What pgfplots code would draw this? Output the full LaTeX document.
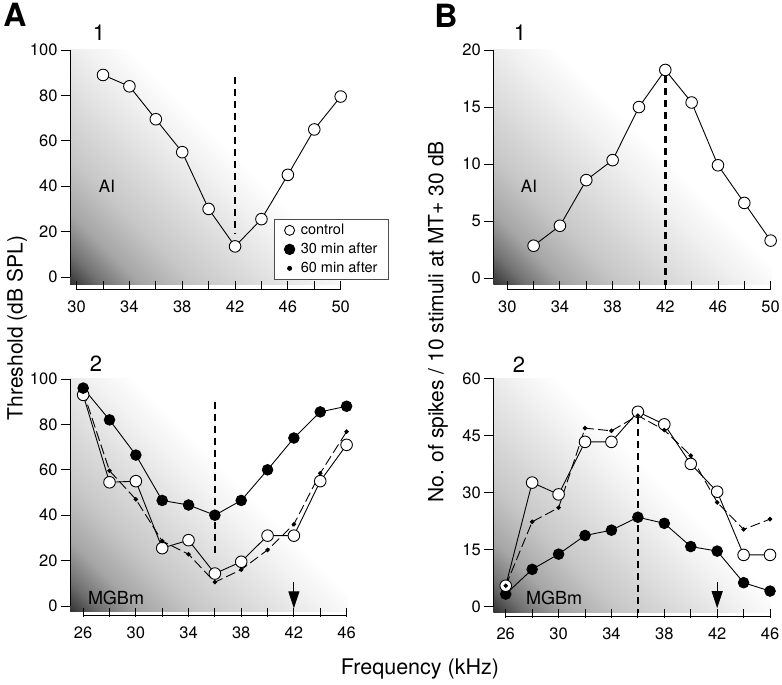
\documentclass[border=0pt]{standalone}
\usepackage{fontspec}
\setmainfont{TeX Gyre Heros}
\usepackage{pgfplots}
\pgfplotsset{compat=1.18}
\usetikzlibrary{arrows.meta}

% dark corner at bottom left, fading to white along the diagonal
% (the box covers roughly 14.6bp..85.4bp of the shading at 45 degrees)
\pgfdeclarehorizontalshading{cornergrad}{100bp}{color(0bp)=(black!80); color(14.6bp)=(black!80); color(18.9bp)=(black!56); color(24.5bp)=(black!35); color(32.3bp)=(black!22); color(41.5bp)=(black!13); color(50bp)=(black!5); color(56bp)=(white); color(100bp)=(white)}

\pgfplotsset{
  panel/.style={
    scale only axis, clip=false,
    axis lines=left,
    axis line style={draw=none,-},
    tick style={black, line width=0.9pt},
    tick align=outside,
    major tick length=9pt,
    axis x line shift=-4pt,
    ticklabel style={font=\fontsize{16.5}{18}\selectfont},
    xticklabel style={yshift=-7pt},
    /pgf/number format/assume math mode=true,
    axis background/.style={shading=cornergrad, shading angle=45},
  },
  ctrl/.style={black, line width=0.9pt, mark=*, mark size=5.8pt, mark options={fill=white, line width=0.9pt}},
  m30/.style={black, line width=0.9pt, mark=*, mark size=5.3pt, mark options={fill=black}},
  m60/.style={black, line width=0.9pt, dash pattern=on 10pt off 4pt, mark=*, mark size=1.8pt, mark options={solid, fill=black}},
  cf/.style={black, line width=2.6pt, dash pattern=on 7pt off 5pt},
}
\newcommand{\lab}[1]{\fontsize{#1}{#1}\selectfont}

\begin{document}
\begin{tikzpicture}
\path[use as bounding box] (0,0) rectangle (782pt,685pt);

% ---------- A1 ----------
\begin{axis}[panel, at={(70pt,400pt)}, anchor=south west,
  width=272pt, height=235pt,
  xmin=29.5, xmax=50.1, ymin=-3.5, ymax=100,
  xtick={30,32,...,50}, xticklabels={30,,34,,38,,42,,46,,50},
  ytick={0,20,...,100},
  legend style={at={(0.75,0.281)}, anchor=north west, draw=black!70, line width=0.8pt,
    fill=white, font=\lab{14.5}, inner xsep=10pt, inner ysep=2pt, row sep=1pt, column sep=5pt,
    nodes={inner sep=1pt, text height=12pt, text depth=4pt}, cells={anchor=west}},
  legend image code/.code={\draw[#1,solid] plot coordinates {(0pt,0pt)};},
]
\draw[line width=0.9pt] ([yshift=-4pt]axis cs:30,-3.5) -- ([yshift=-4pt]axis cs:50,-3.5);
\draw[line width=0.9pt] (axis cs:29.5,0) -- (axis cs:29.5,100);
\addplot[cf, forget plot] coordinates {(42,88.2) (42,19)};
\addplot[ctrl, forget plot] coordinates {
  (32,89) (34,84) (36,69.5) (38,55) (40,30) (42,13.5) (44,25.5) (46,45) (48,65) (50,79.5)};
\addlegendimage{ctrl, mark size=5pt}
\addlegendentry{control}
\addlegendimage{m30, mark size=5.2pt}
\addlegendentry{30 min after}
\addlegendimage{m60, mark size=2pt}
\addlegendentry{60 min after}
\end{axis}

% ---------- A2 ----------
\begin{axis}[panel, at={(70pt,73.3pt)}, anchor=south west,
  width=277.9pt, height=232.7pt,
  xmin=25.0, xmax=46.1, ymin=-2.5, ymax=100,
  xtick={26,28,...,46}, xticklabels={26,,30,,34,,38,,42,,46},
  ytick={0,20,...,100},
]
\draw[line width=0.9pt] ([yshift=-4pt]axis cs:26,-2.5) -- ([yshift=-4pt]axis cs:46,-2.5);
\draw[line width=0.9pt] (axis cs:25.0,0) -- (axis cs:25.0,100);
\addplot[cf] coordinates {(36,90) (36,21.6)};
\draw[line width=1pt, -{Triangle[length=17pt,width=11pt]}] (axis cs:42,10.5) -- (axis cs:42,-1);
\addplot[ctrl] coordinates {
  (26,93) (28,54.5) (30,55) (32,25.5) (34,29) (36,14.3) (38,19.5) (40,31) (42,31) (44,55) (46,71)};
\addplot[m30] coordinates {
  (26,96) (28,82) (30,66.5) (32,46.5) (34,44.5) (36,40) (38,46.5) (40,60) (42,74) (44,85.5) (46,88)};
\addplot[m60] coordinates {
  (26,94.5) (28,59.6) (30,47) (32,28.6) (34,22.8) (36,10.5) (38,16) (40,24.7) (42,36) (44,58.5) (46,76.8)};
\end{axis}

% ---------- B1 ----------
\begin{axis}[panel, at={(493.3pt,400pt)}, anchor=south west,
  width=278pt, height=235pt,
  xmin=28.94, xmax=50.05, ymin=-0.59, ymax=20,
  xtick={30,32,...,50}, xticklabels={30,,34,,38,,42,,46,,50},
  ytick={0,5,...,20},
]
\draw[line width=0.9pt] ([yshift=-4pt]axis cs:30,-0.59) -- ([yshift=-4pt]axis cs:50,-0.59);
\draw[line width=0.9pt] (axis cs:28.94,0) -- (axis cs:28.94,20);
\addplot[cf] coordinates {(42,17.7) (42,-0.59)};
\addplot[ctrl] coordinates {
  (32,2.85) (34,4.6) (36,8.6) (38,10.35) (40,15) (42,18.25) (44,15.4) (46,9.9) (48,6.6) (50,3.3)};
\end{axis}

% ---------- B2 ----------
\begin{axis}[panel, at={(493.3pt,72.3pt)}, anchor=south west,
  width=277.4pt, height=234.4pt,
  xmin=25.06, xmax=46.05, ymin=-1.58, ymax=60,
  xtick={26,28,...,46}, xticklabels={26,,30,,34,,38,,42,,46},
  ytick={0,15,...,60},
]
\draw[line width=0.9pt] ([yshift=-4pt]axis cs:26,-1.58) -- ([yshift=-4pt]axis cs:46,-1.58);
\draw[line width=0.9pt] (axis cs:25.06,0) -- (axis cs:25.06,60);
\addplot[cf] coordinates {(36,49.9) (36,-1.58)};
\draw[line width=1pt, -{Triangle[length=17pt,width=11pt]}] (axis cs:42,6.6) -- (axis cs:42,-0.4);
\addplot[m30] coordinates {
  (26,3.3) (28,9.8) (30,13.8) (32,18.7) (34,20.1) (36,23.5) (38,21.9) (40,15.8) (42,14.6) (44,6.3) (46,4.1)};
\addplot[ctrl] coordinates {
  (26,5.5) (28,32.6) (30,29.5) (32,43.3) (34,43.3) (36,51.2) (38,47.9) (40,37.5) (42,30.2) (44,13.6) (46,13.6)};
\addplot[m60] coordinates {
  (26,5.5) (28,22.3) (30,26) (32,46.9) (34,46.2) (36,50.2) (38,46.4) (40,39.7) (42,27.4) (44,20.3) (46,23)};
\end{axis}

% ---------- labels ----------
\node[font=\lab{32}\bfseries] at (15pt,670pt) {A};
\node[font=\lab{32}\bfseries] at (446pt,669pt) {B};
\node[font=\lab{22}] at (99pt,652pt) {1};
\node[font=\lab{22}] at (520pt,652pt) {1};
\node[font=\lab{22}] at (96pt,321pt) {2};
\node[font=\lab{22}] at (519pt,320pt) {2};
\node[font=\lab{17}] at (107pt,499pt) {AI};
\node[font=\lab{17}] at (529pt,499pt) {AI};
\node[font=\lab{18}] at (116pt,87pt) {MGBm};
\node[font=\lab{18}] at (554pt,87pt) {MGBm};
\node[font=\lab{21}, rotate=90] at (17pt,357pt) {Threshold (dB SPL)};
\node[font=\lab{21}, rotate=90] at (438pt,363pt) {No. of spikes / 10 stimuli at MT+ 30 dB};
\node[font=\lab{21.5}] at (420pt,16pt) {Frequency (kHz)};
\end{tikzpicture}
\end{document}
